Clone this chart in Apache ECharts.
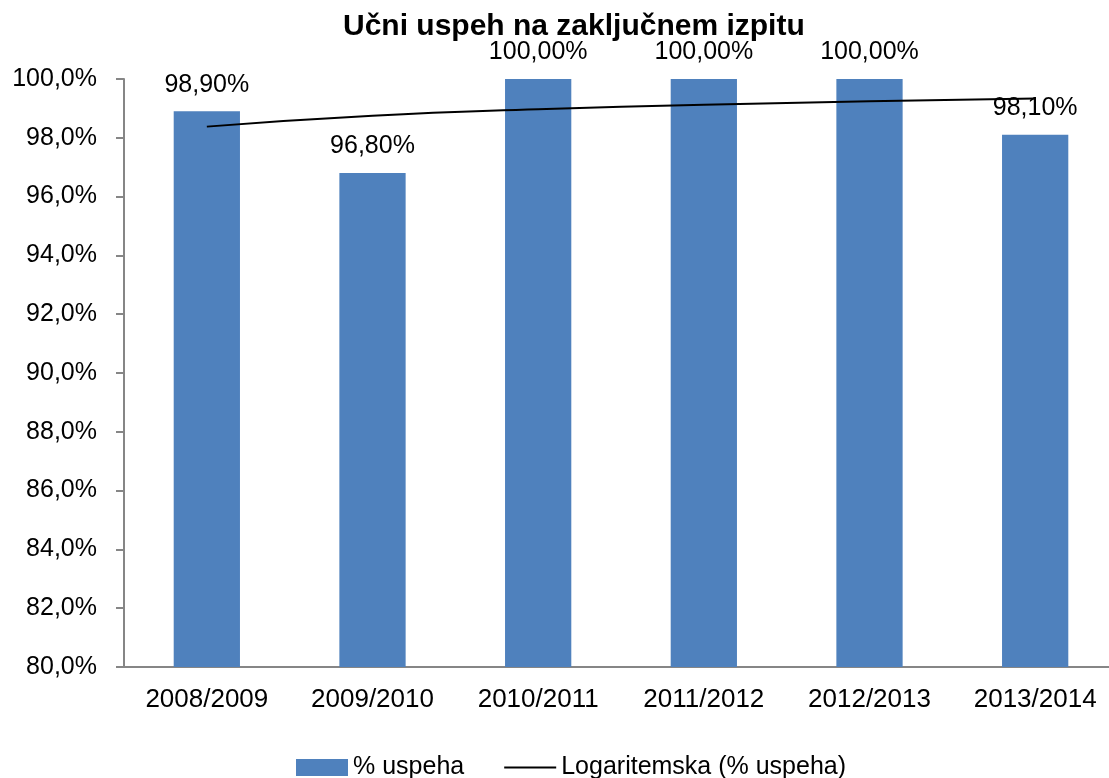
<!doctype html>
<html>
    <head>
        <meta charset="utf-8">
        <title>Učni uspeh na zaključnem izpitu</title>
        <style>
            html, body { margin: 0; padding: 0; background: #fff; overflow: hidden; }
            #main { width: 1118px; height: 778px; }
        </style>
    </head>
    <body>
        <div id="main"></div>
        <script src="https://cdn.jsdelivr.net/npm/echarts@6/dist/echarts.min.js"></script>
        <script>
            var years = ['2008/2009', '2009/2010', '2010/2011', '2011/2012', '2012/2013', '2013/2014'];
            var uspeh = [98.9, 96.8, 100, 100, 100, 98.1];
            // trend line values at each category
            var trend = [98.38, 98.75, 98.97, 99.12, 99.24, 99.34];

            var font = 'Liberation Sans';
            var chart = echarts.init(document.getElementById('main'));

            chart.setOption({
                animation: false,
                textStyle: { fontFamily: font },
                title: {
                    text: 'Učni uspeh na zaključnem izpitu',
                    left: 338,
                    top: 7,
                    textStyle: { fontFamily: font, fontSize: 30, fontWeight: 'bold', color: '#000' }
                },
                grid: { left: 124, right: 0, top: 79, bottom: 111 },
                legend: {
                    top: 750,
                    left: 291,
                    itemWidth: 52,
                    itemHeight: 17,
                    itemGap: 40,
                    textStyle: { fontFamily: font, fontSize: 25, color: '#000' },
                    data: [
                        { name: '% uspeha', icon: 'rect' },
                        { name: 'Logaritemska (% uspeha)', icon: 'path://M0,0L52,0L52,2L0,2Z', itemStyle: { color: '#000' } }
                    ]
                },
                xAxis: {
                    type: 'category',
                    data: years,
                    axisLine: { lineStyle: { color: '#868686', width: 2 } },
                    axisTick: { length: 8, lineStyle: { color: '#868686', width: 2 } },
                    axisLabel: { fontFamily: font, fontSize: 26, color: '#000', margin: 20 }
                },
                yAxis: {
                    type: 'value',
                    min: 80,
                    max: 100,
                    interval: 2,
                    splitLine: { show: false },
                    axisLine: { show: true, lineStyle: { color: '#868686', width: 2 } },
                    axisTick: { show: true, length: 8, lineStyle: { color: '#868686', width: 2 } },
                    axisLabel: {
                        fontFamily: font, fontSize: 25, color: '#000', margin: 27,
                        formatter: function (v) { return v.toFixed(1).replace('.', ',') + '%'; }
                    }
                },
                series: [
                    {
                        name: '% uspeha',
                        type: 'bar',
                        data: uspeh,
                        barWidth: '40%',
                        itemStyle: { color: '#4F81BD' },
                        label: {
                            show: true,
                            position: 'top',
                            distance: 14,
                            fontFamily: font,
                            fontSize: 25,
                            color: '#000',
                            formatter: function (p) { return p.value.toFixed(2).replace('.', ',') + '%'; }
                        }
                    },
                    {
                        name: 'Logaritemska (% uspeha)',
                        type: 'line',
                        data: trend,
                        smooth: true,
                        symbol: 'none',
                        lineStyle: { color: '#000', width: 2 },
                        itemStyle: { color: '#000' },
                        z: 5
                    }
                ]
            });

            window.onresize = chart.resize;
        </script>
    </body>
</html>
